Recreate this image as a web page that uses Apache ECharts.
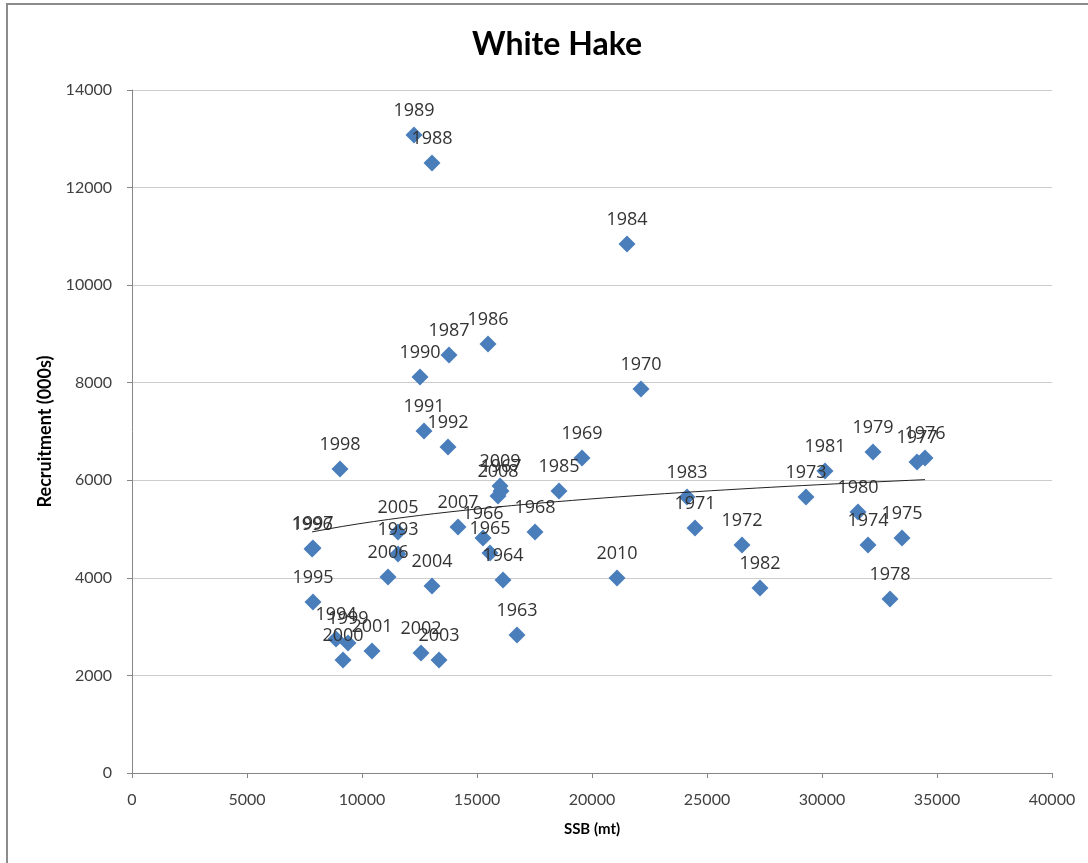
<!DOCTYPE html>
<html>
<head>
<meta charset="utf-8">
<script src="https://cdn.jsdelivr.net/npm/echarts@6/dist/echarts.min.js"></script>
<style>
  html, body { margin: 0; padding: 0; background: #fff; }
  #chart { width: 1088px; height: 863px; }
</style>
</head>
<body>
<div id="chart"></div>
<script>
// year labels, SSB (mt) and recruitment (000s)
const years = [1963, 1964, 1965, 1966, 1967, 1968, 1969, 1970, 1971, 1972,
  1973, 1974, 1975, 1976, 1977, 1978, 1979, 1980, 1981, 1982,
  1983, 1984, 1985, 1986, 1987, 1988, 1989, 1990, 1991, 1992,
  1993, 1994, 1995, 1996, 1997, 1998, 1999, 2000, 2001, 2002,
  2003, 2004, 2005, 2006, 2007, 2008, 2009, 2010];
const ssb = [16739, 16130, 15565, 15261, 16043, 17522, 19565, 22130, 24478, 26522,
  29304, 32000, 33478, 34478, 34130, 32957, 32217, 31565, 30130, 27304,
  24130, 21522, 18565, 15478, 13783, 13043, 12261, 12522, 12696, 13739,
  11565, 8870, 7870, 7830, 7870, 9043, 9391, 9174, 10435, 12565,
  13348, 13043, 11565, 11130, 14174, 15913, 16000, 21087];
const recruitment = [2829, 3956, 4510, 4817, 5780, 4940, 6457, 7871, 5022, 4673,
  5657, 4673, 4817, 6457, 6375, 3567, 6580, 5350, 6190, 3792,
  5657, 10843, 5780, 8793, 8568, 12503, 13077, 8117, 7010, 6682,
  4489, 2747, 3505, 4590, 4612, 6231, 2665, 2316, 2501, 2460,
  2316, 3833, 4940, 4018, 5042, 5678, 5883, 3997];

const points = years.map((y, i) => [ssb[i], recruitment[i], y]);

// logarithmic trend line y = a * ln(x) + b, over the data's x range
const n = ssb.length;
const lx = ssb.map(Math.log);
const mx = lx.reduce((s, v) => s + v, 0) / n;
const my = recruitment.reduce((s, v) => s + v, 0) / n;
let sxy = 0, sxx = 0;
for (let i = 0; i < n; i++) {
  sxy += (lx[i] - mx) * (recruitment[i] - my);
  sxx += (lx[i] - mx) * (lx[i] - mx);
}
const slope = sxy / sxx;
const icpt = my - slope * mx;
const xMin = Math.min(...ssb);
const xMax = Math.max(...ssb);
const trend = [];
for (let k = 0; k <= 40; k++) {
  const x = xMin + (xMax - xMin) * k / 40;
  trend.push([x, icpt + slope * Math.log(x)]);
}

const myChart = echarts.init(document.getElementById('chart'));
const option = {
  animation: false,
  backgroundColor: '#fff',
  graphic: [
    {
      type: 'rect',
      shape: { x: 7, y: 4, width: 1200, height: 1000 },
      style: { fill: 'none', stroke: '#8c8c8c', lineWidth: 2 },
      silent: true,
    },
  ],
  title: {
    text: 'White Hake',
    left: 467,
    top: 24,
    textStyle: {
      fontFamily: 'Lato',
      fontSize: 32,
      fontWeight: 'bold',
      color: '#000',
    },
  },
  grid: {
    left: 132,
    right: 36,
    top: 90,
    bottom: 90,
    containLabel: false,
  },
  xAxis: {
    type: 'value',
    min: 0,
    max: 40000,
    interval: 5000,
    name: 'SSB (mt)',
    nameLocation: 'middle',
    nameGap: 49,
    nameTextStyle: {
      fontFamily: 'Lato',
      fontSize: 15,
      fontWeight: 'bold',
      color: '#000',
    },
    axisLine: { show: true, lineStyle: { color: '#868686', width: 1 } },
    axisTick: { show: true, length: 5, lineStyle: { color: '#868686' } },
    axisLabel: { fontFamily: 'Lato', fontSize: 16, color: '#404040', margin: 19, formatter: (v) => String(v) },
    splitLine: { show: false },
  },
  yAxis: {
    type: 'value',
    min: 0,
    max: 14000,
    interval: 2000,
    name: 'Recruitment (000s)',
    nameLocation: 'middle',
    nameGap: 78,
    nameRotate: 90,
    nameTextStyle: {
      fontFamily: 'Lato',
      fontSize: 18,
      fontWeight: 'bold',
      color: '#000',
    },
    axisLine: { show: true, lineStyle: { color: '#868686', width: 1 } },
    axisTick: { show: true, length: 5, lineStyle: { color: '#868686' } },
    axisLabel: { fontFamily: 'Lato', fontSize: 16, color: '#404040', margin: 20, formatter: (v) => String(v) },
    splitLine: { show: true, lineStyle: { color: '#cccccc', width: 1 } },
  },
  series: [
    {
      type: 'scatter',
      data: points,
      symbol: 'diamond',
      symbolSize: 17,
      itemStyle: { color: '#4a7ebb', opacity: 1 },
      label: {
        show: true,
        position: 'top',
        distance: 7,
        formatter: (p) => String(p.value[2]),
        fontFamily: 'Open Sans',
        fontSize: 18,
        color: '#333',
      },
      z: 2,
    },
    {
      type: 'line',
      data: trend,
      showSymbol: false,
      silent: true,
      lineStyle: { color: '#222', width: 1 },
      z: 3,
    },
  ],
};
myChart.setOption(option);
</script>
</body>
</html>
